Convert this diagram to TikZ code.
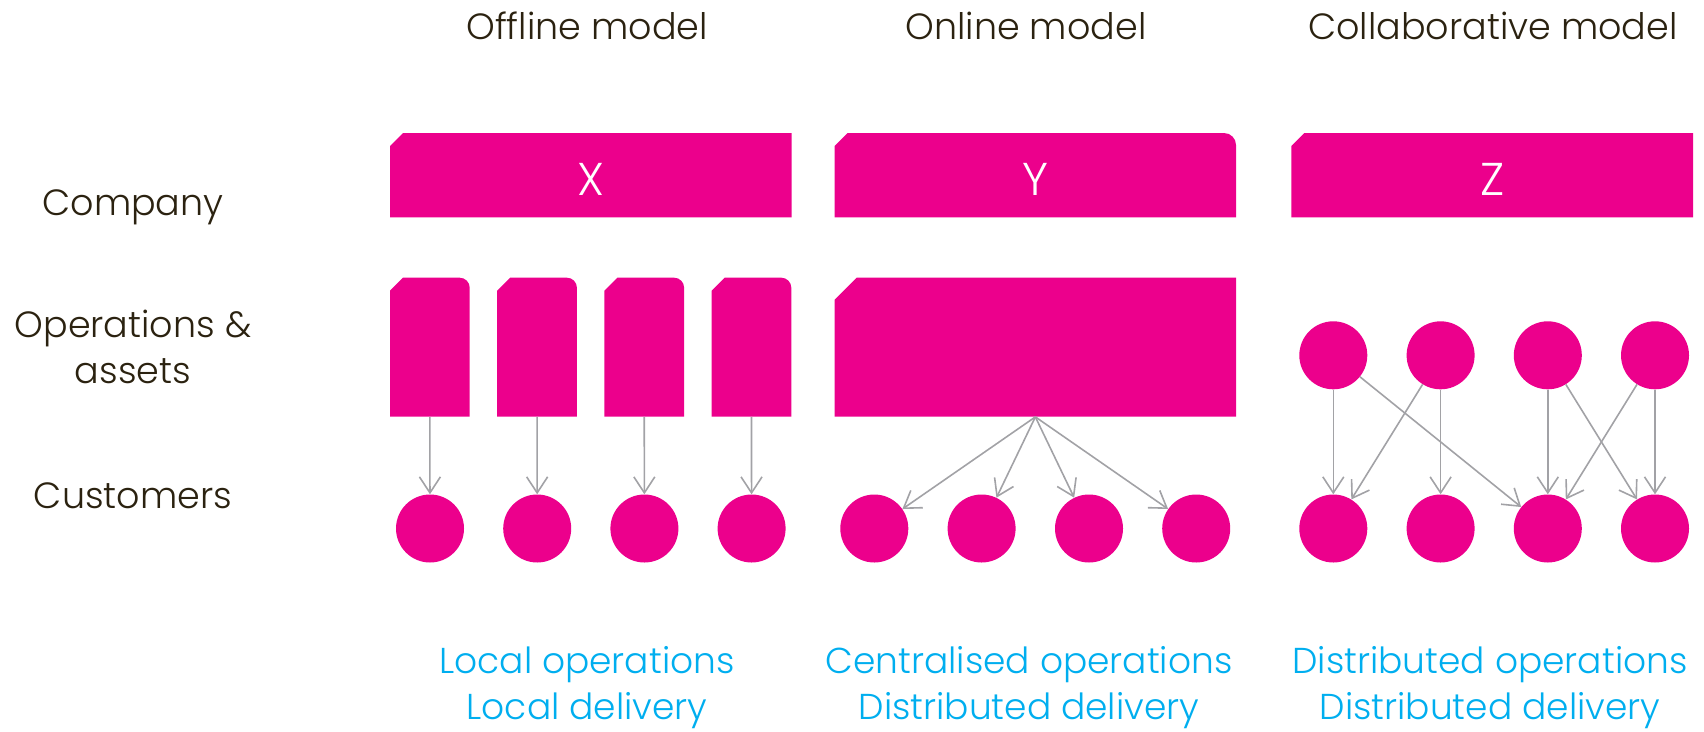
\documentclass[tikz,border=0pt]{standalone}
\usepackage{fontspec}
\setmainfont{Poppins Light}
\usetikzlibrary{arrows.meta}
\definecolor{mag}{HTML}{EC008C}
\definecolor{sky}{HTML}{00AEEF}
\definecolor{ink}{HTML}{2B2210}
\definecolor{arr}{HTML}{A2A2A6}
\tikzset{
  shapefill/.style={fill=mag, draw=none},
  boxlabel/.style={inner sep=0pt, minimum width=#1, minimum height=84pt, text=white, font=\fontsize{46}{50}\selectfont},
  opsanchor/.style={inner sep=0pt, minimum width=#1, minimum height=139pt},
  dot/.style={circle, fill=mag, minimum size=68pt, inner sep=0pt},
  head/.style={text=ink, font=\fontsize{36.5}{40}\selectfont},
  side/.style={text=ink, font=\fontsize{36.5}{46}\selectfont, align=center},
  foot/.style={text=sky, inner sep=0pt, font=\fontsize{36}{46}\selectfont, align=center},
  link/.style={draw=arr, line width=1.6pt, -{Straight Barb[length=16pt,width=21pt,line width=1.6pt]}}
}
\begin{document}
\begin{tikzpicture}[x=1pt,y=1pt,yscale=-1]
\useasboundingbox (0,0) rectangle (1704,731);
% headings
\node[head] (h1) at (587,26) {Offline model};
\node[head] (h2) at (1026,26) {Online model};
\node[head] (h3) at (1493,26) {Collaborative model};
% side labels
\node[side] (s1) at (133,207) {Company};
\node[side] (s2) at (133,347) {Operations \&\\assets};
\node[side] (s3) at (133,496) {Customers};
% company boxes
\fill[shapefill] (390,146) -- (403,133) -- (791.7,133) -- (791.7,217.3) -- (390,217.3) -- cycle;
\node[boxlabel=401.7pt] (cx) at (590.85,179) {X};
\fill[shapefill] (834.7,146) -- (847.7,133) -- (1224,133) arc[start angle=-90,end angle=0,radius=12] -- (1236,217.3) -- (834.7,217.3) -- cycle;
\node[boxlabel=401.3pt] (cy) at (1035.35,179) {Y};
\fill[shapefill] (1291.3,146) -- (1304.3,133) -- (1693,133) -- (1693,217.3) -- (1291.3,217.3) -- cycle;
\node[boxlabel=401.7pt] (cz) at (1492.15,179) {Z};
% offline operations
\foreach \i/\l in {1/390,2/497.2,3/604.4,4/711.6}{
  \fill[shapefill] (\l,290.7) -- (\l+13,277.7) -- (\l+69.7,277.7) arc[start angle=-90,end angle=0,radius=10] -- (\l+79.7,416.7) -- (\l,416.7) -- cycle;
  \node[opsanchor=79.7pt] (ox\i) at (\l+39.85,347.2) {};
}
% online operations
\fill[shapefill] (834.7,299.7) -- (856.7,277.7) -- (1236,277.7) -- (1236,416.7) -- (834.7,416.7) -- cycle;
\node[opsanchor=401.3pt] (oy) at (1035.35,347.2) {};
% collaborative operations
\foreach \i/\x in {1/1333.3,2/1440.6,3/1547.8,4/1655}{
  \node[dot] (oz\i) at (\x,355.3) {};
}
% customers
\foreach \i/\x in {1/430,2/537.2,3/644.4,4/751.6}{
  \node[dot] (kx\i) at (\x,528.5) {};
}
\foreach \i/\x in {1/874.3,2/981.6,3/1089,4/1196.2}{
  \node[dot] (ky\i) at (\x,528.5) {};
}
\foreach \i/\x in {1/1333.3,2/1440.6,3/1547.8,4/1655}{
  \node[dot] (kz\i) at (\x,528.5) {};
}
% connectors
\foreach \i in {1,2,3,4}{
  \draw[link] (ox\i.south) -- (kx\i);
  \draw[link] (oy.south) -- (ky\i);
}
\draw[link] (oz1) -- (kz1);
\draw[link] (oz1) -- (kz3);
\draw[link] (oz2) -- (kz1);
\draw[link] (oz2) -- (kz2);
\draw[link] (oz3) -- (kz3);
\draw[link] (oz3) -- (kz4);
\draw[link] (oz4) -- (kz3);
\draw[link] (oz4) -- (kz4);
% footers
\node[foot] (f1) at (587,688) {Local operations\\Local delivery};
\node[foot] (f2) at (1029,688) {Centralised operations\\Distributed delivery};
\node[foot] (f3) at (1490,688) {Distributed operations\\Distributed delivery};
\end{tikzpicture}
\end{document}
